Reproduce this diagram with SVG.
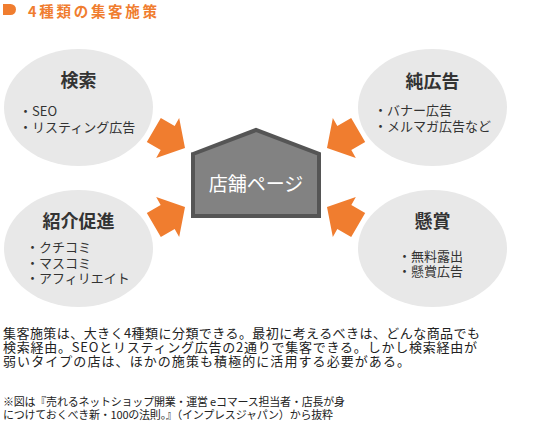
<svg xmlns="http://www.w3.org/2000/svg" xmlns:xlink="http://www.w3.org/1999/xlink" width="550" height="432" viewBox="0 0 550 432">
<style>
text{font-family:"Noto Sans CJK JP","Noto Sans",sans-serif;}
.el{fill:#e8e8e8;}
.ttl{font-size:18px;font-weight:bold;fill:#333;text-anchor:middle;}
.itm{font-size:13px;fill:#333;}
.arr{fill:#f07d2f;}
.body{font-size:13px;fill:#222;}
.note{font-size:11px;fill:#222;}
</style>
<defs>
<polygon id="arrow" class="arr" points="0,0 -20,-23 -20,-14 -36,-14 -36,14 -20,14 -20,23"/>
</defs>
<rect width="550" height="432" fill="#fff"/>
<g id="heading">
<path d="M3,4 H10.5 A5.5,5.5 0 0 1 10.5,15 H3 Z" fill="#f07d2f"/>
<text x="28" y="16.5" font-size="14.5" font-weight="bold" fill="#f07d2f" textLength="129" lengthAdjust="spacing">4種類の集客施策</text>
</g>
<g id="connectors">
<use xlink:href="#arrow" transform="translate(185,148) rotate(30)"/>
<use xlink:href="#arrow" transform="translate(327,148) rotate(150)"/>
<use xlink:href="#arrow" transform="translate(185,207) rotate(-30)"/>
<use xlink:href="#arrow" transform="translate(327,207) rotate(-150)"/>
</g>
<g id="node-search">
<ellipse class="el" cx="78.5" cy="107.5" rx="74.5" ry="58.5"/>
<text class="ttl" x="78.5" y="87">検索</text>
<text class="itm" x="19" y="116">・SEO</text>
<text class="itm" x="19" y="132">・リスティング広告</text>
</g>
<g id="node-ads">
<ellipse class="el" cx="432.5" cy="107.5" rx="74.5" ry="58.5"/>
<text class="ttl" x="432.5" y="88">純広告</text>
<text class="itm" x="374" y="114.5">・バナー広告</text>
<text class="itm" x="374" y="131">・メルマガ広告など</text>
</g>
<g id="node-referral">
<ellipse class="el" cx="78.5" cy="248.5" rx="74.5" ry="58.5"/>
<text class="ttl" x="78.5" y="228">紹介促進</text>
<text class="itm" x="26" y="252">・クチコミ</text>
<text class="itm" x="26" y="267.5">・マスコミ</text>
<text class="itm" x="26" y="283">・アフィリエイト</text>
</g>
<g id="node-prize">
<ellipse class="el" cx="432.5" cy="248.5" rx="74.5" ry="58.5"/>
<text class="ttl" x="432.5" y="228">懸賞</text>
<text class="itm" x="398" y="260.5">・無料露出</text>
<text class="itm" x="398" y="275.5">・懸賞広告</text>
</g>
<g id="node-store">
<polygon points="193,154 256,130 319,154 319,216 193,216" fill="#828282" stroke="#555" stroke-width="4" stroke-linejoin="miter"/>
<text x="256" y="191" font-size="19" fill="#fff" text-anchor="middle">店舗ページ</text>
</g>
<g id="description">
<text class="body" x="3" y="337.5" textLength="477" lengthAdjust="spacing">集客施策は、大きく4種類に分類できる。最初に考えるべきは、どんな商品でも</text>
<text class="body" x="3" y="351.5" textLength="474" lengthAdjust="spacing">検索経由。SEOとリスティング広告の2通りで集客できる。しかし検索経由が</text>
<text class="body" x="3" y="365.5" textLength="407" lengthAdjust="spacing">弱いタイプの店は、ほかの施策も積極的に活用する必要がある。</text>
</g>
<g id="footnote">
<text class="note" x="3" y="406" textLength="342" lengthAdjust="spacing">※図は『売れるネットショップ開業・運営 eコマース担当者・店長が身</text>
<text class="note" x="3" y="419" textLength="330" lengthAdjust="spacing">につけておくべき新・100の法則。』（インプレスジャパン）から抜粋</text>
</g>
</svg>
